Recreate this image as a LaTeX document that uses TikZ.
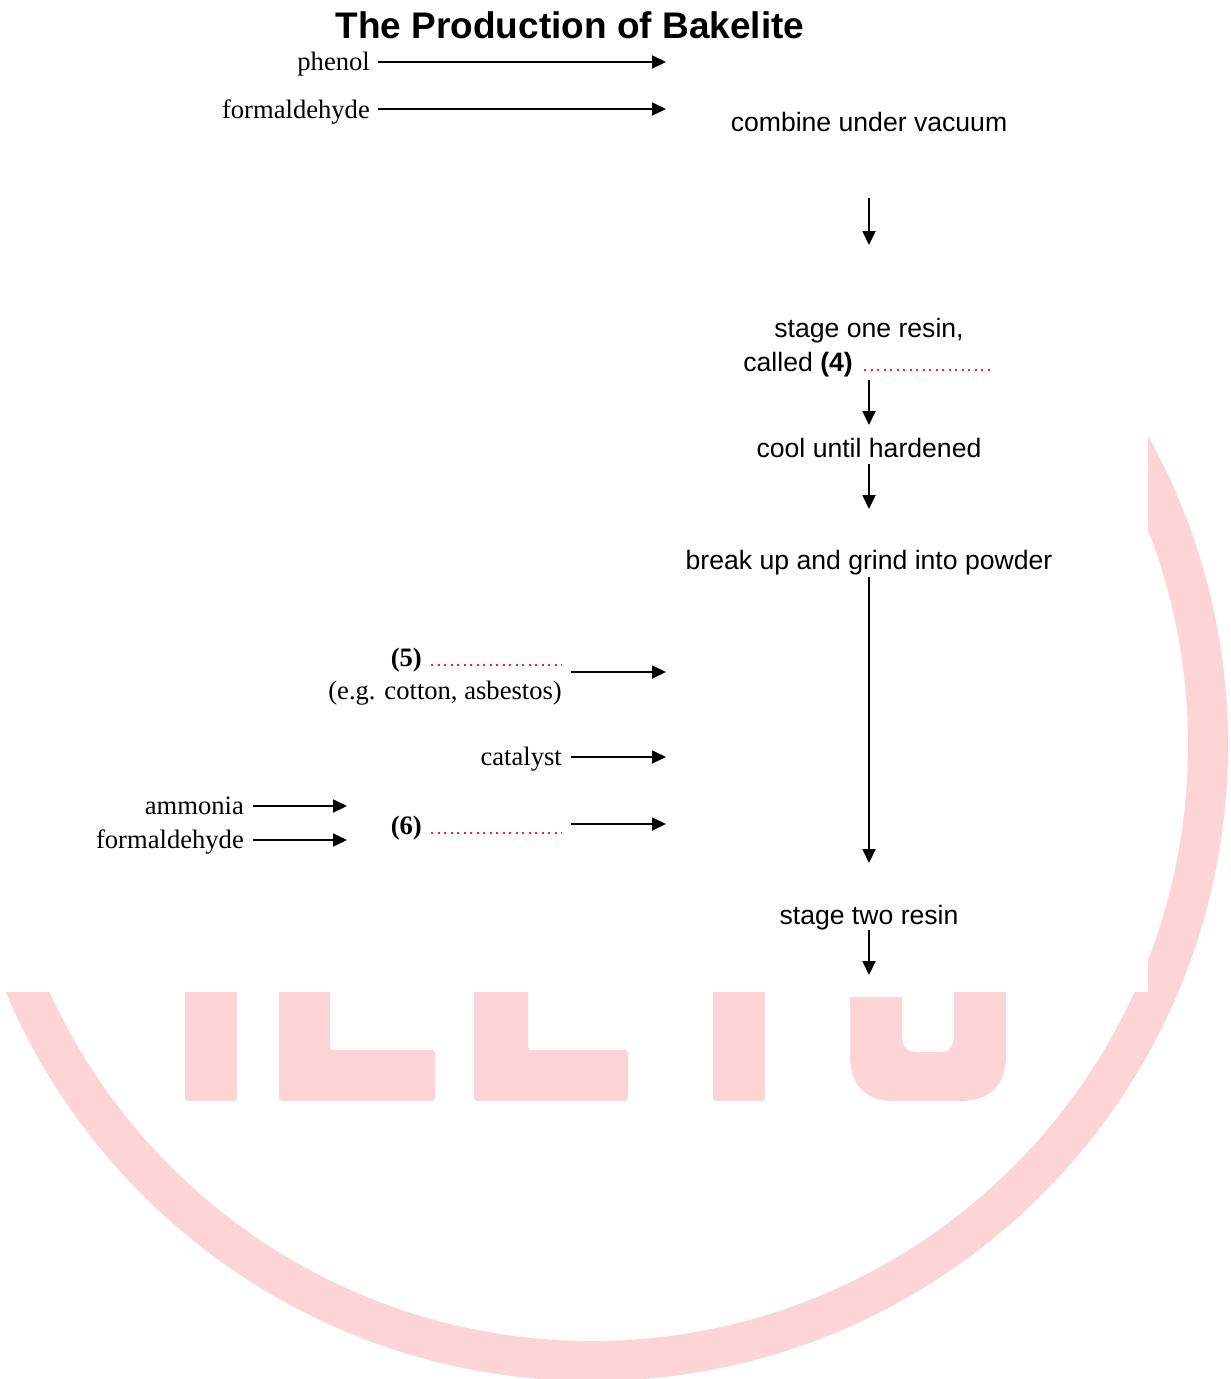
\documentclass[tikz,border=0pt]{standalone}
\usepackage{fontspec}
\setmainfont{Liberation Serif}
\newfontfamily\arialf{Liberation Sans}
\usetikzlibrary{arrows.meta,calc}
\definecolor{wm}{RGB}{253,213,214}
\definecolor{dotred}{RGB}{235,40,40}
\begin{document}
\begin{tikzpicture}[x=1pt,y=-1pt,
  sanslbl/.style={font=\arialf\fontsize{26.6}{30}\selectfont, inner sep=0pt, text height=24pt, text depth=5.5pt},
  seriflbl/.style={font=\fontsize{26.6}{30}\selectfont, inner sep=0pt, text height=22.5pt, text depth=6pt},
  titlelbl/.style={font=\arialf\bfseries\fontsize{37}{40}\selectfont, inner sep=0pt},
  arr/.style={line width=1.8pt, -{Triangle[length=14pt,width=13pt]}},
  blank/.style={minimum width=130pt, minimum height=0pt, inner sep=0pt, anchor=west},
  reddots/.style={dotred, line width=2pt, dash pattern=on 2pt off 4.5pt}]
\useasboundingbox (0,0) rectangle (1231,1379);
\fill[white] (0,0) rectangle (1231,1379);
% watermark
\fill[wm, even odd rule] (592,745) circle[radius=636pt] (592,745) circle[radius=596pt];
\fill[wm, rounded corners=3pt] (185,980) rectangle (237,1101);
\fill[wm, rounded corners=3pt] (279,980) -- (330,980) -- (330,1050) -- (435,1050) -- (435,1101) -- (279,1101) -- cycle;
\fill[wm, rounded corners=3pt] (474,980) -- (528,980) -- (528,1050) -- (628,1050) -- (628,1101) -- (474,1101) -- cycle;
\fill[wm, rounded corners=3pt] (713,980) rectangle (765,1101);
\fill[wm] (850,997) -- (902,997) -- (902,1035) .. controls (902,1048) and (908,1052) .. (915,1052) -- (942,1052) .. controls (950,1052) and (954,1045) .. (954,1035) -- (954,980) -- (1006,980) -- (1006,1055) .. controls (1006,1085) and (990,1101) .. (960,1101) -- (895,1101) .. controls (865,1101) and (850,1085) .. (850,1055) -- cycle;
\fill[white] (0,0) rectangle (1148,992);
% title
\node[titlelbl] (title) at (570,25) {The Production of Bakelite};
% inputs
\node[seriflbl, anchor=east] (phenol) at (370,62) {phenol};
\node[seriflbl, anchor=east] (form1) at (370,110) {formaldehyde};
\coordinate (in1) at (666,62);
\coordinate (in2) at (666,109);
\draw[arr] ([xshift=8]phenol.east) -- (in1);
\draw[arr] ([xshift=8,yshift=1]form1.east) -- (in2);
% main column
\node[sanslbl] (combine) at (869,122) {combine under vacuum};
\node[sanslbl] (stage1) at (869,328) {stage one resin,};
\node[sanslbl, anchor=east] (called) at (853,362) {called \textbf{(4)}};
\node[blank, minimum width=129pt] (b4) at (864,370) {};
\draw[reddots] (b4.west) -- (b4.east);
\node[sanslbl] (cool) at (869,448) {cool until hardened};
\node[sanslbl] (break) at (869,560) {break up and grind into powder};
\node[sanslbl] (stage2) at (869,915) {stage two resin};
\coordinate (outc) at (869,975);
\draw[arr] ([yshift=-76]combine.center) -- ([yshift=83]stage1.center);
\draw[arr] ([yshift=-52]stage1.center) -- ([yshift=23]cool.center);
\draw[arr] ([yshift=-16]cool.center) -- ([yshift=51]break.center);
\draw[arr] ([yshift=-17]break.center) -- ([yshift=52]stage2.center);
\draw[arr] ([yshift=-15]stage2.center) -- (outc);
% additives
\node[seriflbl, anchor=east] (five) at (422,658) {\textbf{(5)}};
\node[blank] (b5) at (431,665) {};
\draw[reddots] (b5.west) -- (b5.east);
\node[seriflbl, anchor=east] (eg) at (562,691) {(e.g. cotton, asbestos)};
\coordinate (in5) at (666,672);
\draw[arr] ([xshift=10,yshift=-7]b5.east) -- (in5);
\node[seriflbl, anchor=east] (catalyst) at (562,757) {catalyst};
\coordinate (incat) at (666,757);
\draw[arr] ([xshift=9]catalyst.east) -- (incat);
\node[seriflbl, anchor=east] (ammonia) at (244,806) {ammonia};
\node[seriflbl, anchor=east] (form2) at (244,840) {formaldehyde};
\coordinate (ammend) at (347,806);
\coordinate (formend) at (347,840);
\draw[arr] ([xshift=9]ammonia.east) -- (ammend);
\draw[arr] ([xshift=9]form2.east) -- (formend);
\node[seriflbl, anchor=east] (six) at (422,826) {\textbf{(6)}};
\node[blank] (b6) at (431,833) {};
\draw[reddots] (b6.west) -- (b6.east);
\coordinate (in6) at (666,824);
\draw[arr] ([xshift=10,yshift=9]b6.east) -- (in6);
\end{tikzpicture}
\end{document}
